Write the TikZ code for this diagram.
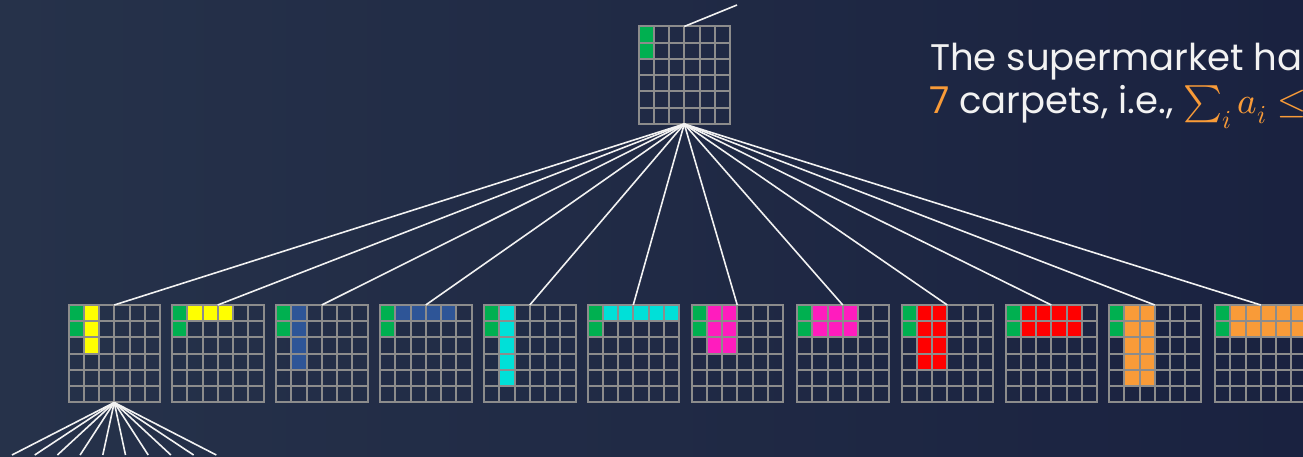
\documentclass[tikz,border=0pt]{standalone}
\usepackage{fontspec}
\usepackage{unicode-math}
\setmainfont{Poppins}
\usepackage{tikz}
\usetikzlibrary{calc}
% --- colours ------------------------------------------------------------
\definecolor{bgleft}{HTML}{26324A}
\definecolor{bgright}{HTML}{1A2240}
\definecolor{cellline}{HTML}{8C8C8C}
\definecolor{txtwhite}{HTML}{F2F2F2}
\definecolor{cgreen}{HTML}{00B050}
\definecolor{cyellow}{HTML}{FFFF00}
\definecolor{cblue}{HTML}{2E5597}
\definecolor{ccyan}{HTML}{00E0D8}
\definecolor{cmagenta}{HTML}{FF1CBE}
\definecolor{cred}{HTML}{FF0000}
\definecolor{corange}{HTML}{F99B38}
\newcommand{\cellw}{15.25}
\newcommand{\cellh}{16.25}
\tikzset{
  % --- floor grids -----------------------------------------------------
  gridbox/.style ={minimum width=91.5pt, minimum height=97.5pt, inner sep=0pt,
                   outer sep=0pt, anchor=north west},
  cellgrid/.style={draw=cellline, line width=2pt, line cap=rect},
  % --- tree edges ------------------------------------------------------
  edge/.style    ={draw=txtwhite, line width=1.6pt},
  % --- annotation ------------------------------------------------------
  txt/.style     ={font=\fontsize{37}{44}\selectfont, text=txtwhite,
                   inner sep=0pt, anchor=base west},
}
% 6x6 floor: name, north-west corner, carpet colour, carpet cells (col/row)
\newcommand{\carpet}[4]{%
  \node[gridbox] (#1) at (#2) {};
  \begin{scope}[shift={(#1.north west)}]
    \foreach \c/\r in {0/0,0/1}
      \fill[cgreen] (\c*\cellw,-\r*\cellh) rectangle ++(\cellw,-\cellh);
    \foreach \c/\r in {#4}
      \fill[#3] (\c*\cellw,-\r*\cellh) rectangle ++(\cellw,-\cellh);
    \foreach \k in {0,...,6} {
      \draw[cellgrid] (\k*\cellw,0) -- ++(0,-6*\cellh);
      \draw[cellgrid] (0,-\k*\cellh) -- ++(6*\cellw,0);
    }
  \end{scope}}

\begin{document}
\begin{tikzpicture}[x=1pt, y=1pt]

  % ============================ canvas ============================
  \useasboundingbox (0,0) rectangle (1303,457);
  \clip (0,0) rectangle (1303,457);
  \shade[left color=bgleft, right color=bgright] (0,0) rectangle (1303,457);

  % ============================ root state ============================
  \carpet{root}{638.5,430.5}{cgreen}{0/1}
  \coordinate (up) at (737,452);
  \draw[edge] (root.north) -- (up);

  % ============================ one more carpet placed ============================
  \carpet{c1}{68.5,152}{cyellow}{1/0,1/1,1/2}
  \carpet{c2}{172,152}{cyellow}{1/0,2/0,3/0}
  \carpet{c3}{276,152}{cblue}{1/0,1/1,1/2,1/3}
  \carpet{c4}{380,152}{cblue}{1/0,2/0,3/0,4/0}
  \carpet{c5}{484,152}{ccyan}{1/0,1/1,1/2,1/3,1/4}
  \carpet{c6}{587.5,152}{ccyan}{1/0,2/0,3/0,4/0,5/0}
  \carpet{c7}{691.5,152}{cmagenta}{1/0,2/0,1/1,2/1,1/2,2/2}
  \carpet{c8}{797,152}{cmagenta}{1/0,2/0,3/0,1/1,2/1,3/1}
  \carpet{c9}{901.5,152}{cred}{1/0,2/0,1/1,2/1,1/2,2/2,1/3,2/3}
  \carpet{c10}{1005.5,152}{cred}{1/0,2/0,3/0,4/0,1/1,2/1,3/1,4/1}
  \carpet{c11}{1109,152}{corange}{1/0,2/0,1/1,2/1,1/2,2/2,1/3,2/3,1/4,2/4}
  \carpet{c12}{1215,152}{corange}{1/0,2/0,3/0,4/0,5/0,1/1,2/1,3/1,4/1,5/1}

  \foreach \k in {1,...,12}
    \draw[edge] (root.south) -- (c\k.north);

  % ============================ next level (cut off) ============================
  \foreach \k in {0,...,9} {
    \coordinate (fan\k) at ({12+22.7*\k},2);
    \draw[edge] (c1.south) -- (fan\k);
  }

  % ============================ note ============================
  \node[txt] (line1) at (930,386) {The supermarket has};
  \node[txt] (line2) at (929,343)
    {\textcolor{corange}{7} carpets, i.e., \textcolor{corange}{$\sum_i a_i \leq$}};

\end{tikzpicture}
\end{document}
